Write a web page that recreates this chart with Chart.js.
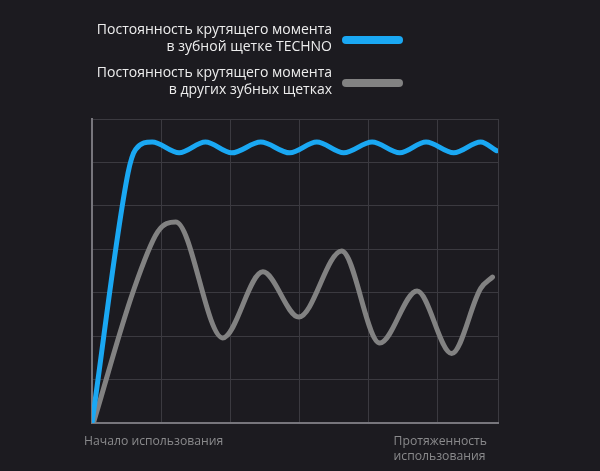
<!DOCTYPE html>
<html>
<head>
<meta charset="utf-8">
<script src="https://cdn.jsdelivr.net/npm/chart.js@4/dist/chart.umd.min.js"></script>
<style>
  html, body { margin: 0; padding: 0; background: #1c1b20; overflow: hidden; }
</style>
</head>
<body>
<canvas id="c" width="600" height="471"></canvas>
<script>
// ── Data ──────────────────────────────────────────────────────────────────────
const legendLabels = [
  ['Постоянность крутящего момента', 'в зубной щетке TECHNO'],
  ['Постоянность крутящего момента', 'в других зубных щетках']
];
const axisLabels = [['Начало использования'], ['Протяженность', 'использования']];

const technoX = [0, 0.52, 0.63, 0.87, 1.26, 1.64, 2.02, 2.44, 2.86, 3.25, 3.64, 4.05, 4.45, 4.83, 5.23, 5.62, 5.85];
const technoY = [0, 5.75, 6.3, 6.47, 6.22, 6.47, 6.22, 6.47, 6.22, 6.47, 6.22, 6.47, 6.22, 6.47, 6.22, 6.47, 6.27];

const otherX = [0.02, 0.6, 0.95, 1.21, 1.89, 2.47, 2.99, 3.61, 4.16, 4.70, 5.20, 5.62, 5.79];
const otherY = [0, 3.05, 4.4, 4.63, 1.96, 3.48, 2.44, 3.96, 1.84, 3.04, 1.6, 3.1, 3.36];

const xTicks = [0, 1, 2, 3, 4, 5, 5.87];

// ── Theme ─────────────────────────────────────────────────────────────────────
const C = {
  bg:    '#1c1b20',
  blue:  '#1aa8f3',
  gray:  '#828282',
  grid:  '#3b3a40',
  axis:  '#77767c',
  text:  '#ededed',
  label: '#8a8a8c',
  font:  "'Open Sans', sans-serif"
};

const pts = (xs, ys) => xs.map((x, i) => ({ x, y: ys[i] }));

// Legend: right-aligned two-line labels with a rounded swatch to the right
const legendPlugin = {
  id: 'sideLegend',
  afterDraw(chart) {
    const ctx = chart.ctx;
    ctx.save();
    ctx.font = '14px ' + C.font;
    ctx.textAlign = 'right';
    ctx.textBaseline = 'middle';
    chart.data.datasets.forEach((ds, i) => {
      const top = 30 + i * 43;
      legendLabels[i].forEach((line, j) => {
        ctx.fillStyle = C.text;
        ctx.fillText(line, 332, top + j * 17);
      });
      ctx.strokeStyle = ds.borderColor;
      ctx.lineWidth = 8;
      ctx.lineCap = 'round';
      ctx.beginPath();
      ctx.moveTo(346, top + 10);
      ctx.lineTo(399, top + 10);
      ctx.stroke();
    });
    ctx.restore();
  }
};

// Axis end labels under the x axis
const axisLabelPlugin = {
  id: 'axisEnds',
  afterDraw(chart) {
    const ctx = chart.ctx;
    const xs = chart.scales.x;
    const y0 = chart.chartArea.bottom + 19;
    ctx.save();
    ctx.font = '12.2px ' + C.font;
    ctx.fillStyle = C.label;
    ctx.textBaseline = 'middle';
    ctx.textAlign = 'left';
    ctx.fillText(axisLabels[0][0], xs.getPixelForValue(0) - 8, y0);
    axisLabels[1].forEach((line, j) => {
      ctx.fillText(line, xs.getPixelForValue(4.36), y0 + j * 15);
    });
    ctx.restore();
  }
};

new Chart(document.getElementById('c'), {
  type: 'line',
  data: {
    datasets: [
      {
        label: legendLabels[0].join(' '),
        data: pts(technoX, technoY),
        borderColor: C.blue,
        borderWidth: 5,
        cubicInterpolationMode: 'monotone',
        pointRadius: 0,
        borderCapStyle: 'round',
        fill: false
      },
      {
        label: legendLabels[1].join(' '),
        data: pts(otherX, otherY),
        borderColor: C.gray,
        borderWidth: 5,
        cubicInterpolationMode: 'monotone',
        pointRadius: 0,
        borderCapStyle: 'round',
        fill: false
      }
    ]
  },
  options: {
    responsive: false,
    animation: false,
    devicePixelRatio: 1,
    layout: { padding: { left: 92, right: 102, top: 119, bottom: 48 } },
    plugins: { legend: { display: false }, tooltip: { enabled: false } },
    scales: {
      x: {
        type: 'linear',
        min: 0, max: 5.87,
        afterBuildTicks: s => { s.ticks = xTicks.map(v => ({ value: v })); },
        grid: { color: C.grid, lineWidth: 1, drawTicks: false },
        border: { color: C.axis, width: 2 },
        ticks: { display: false }
      },
      y: {
        min: 0, max: 7,
        ticks: { display: false, stepSize: 1 },
        grid: { color: C.grid, lineWidth: 1, drawTicks: false },
        border: { color: C.axis, width: 2 }
      }
    }
  },
  plugins: [legendPlugin, axisLabelPlugin]
});
</script>
</body>
</html>
